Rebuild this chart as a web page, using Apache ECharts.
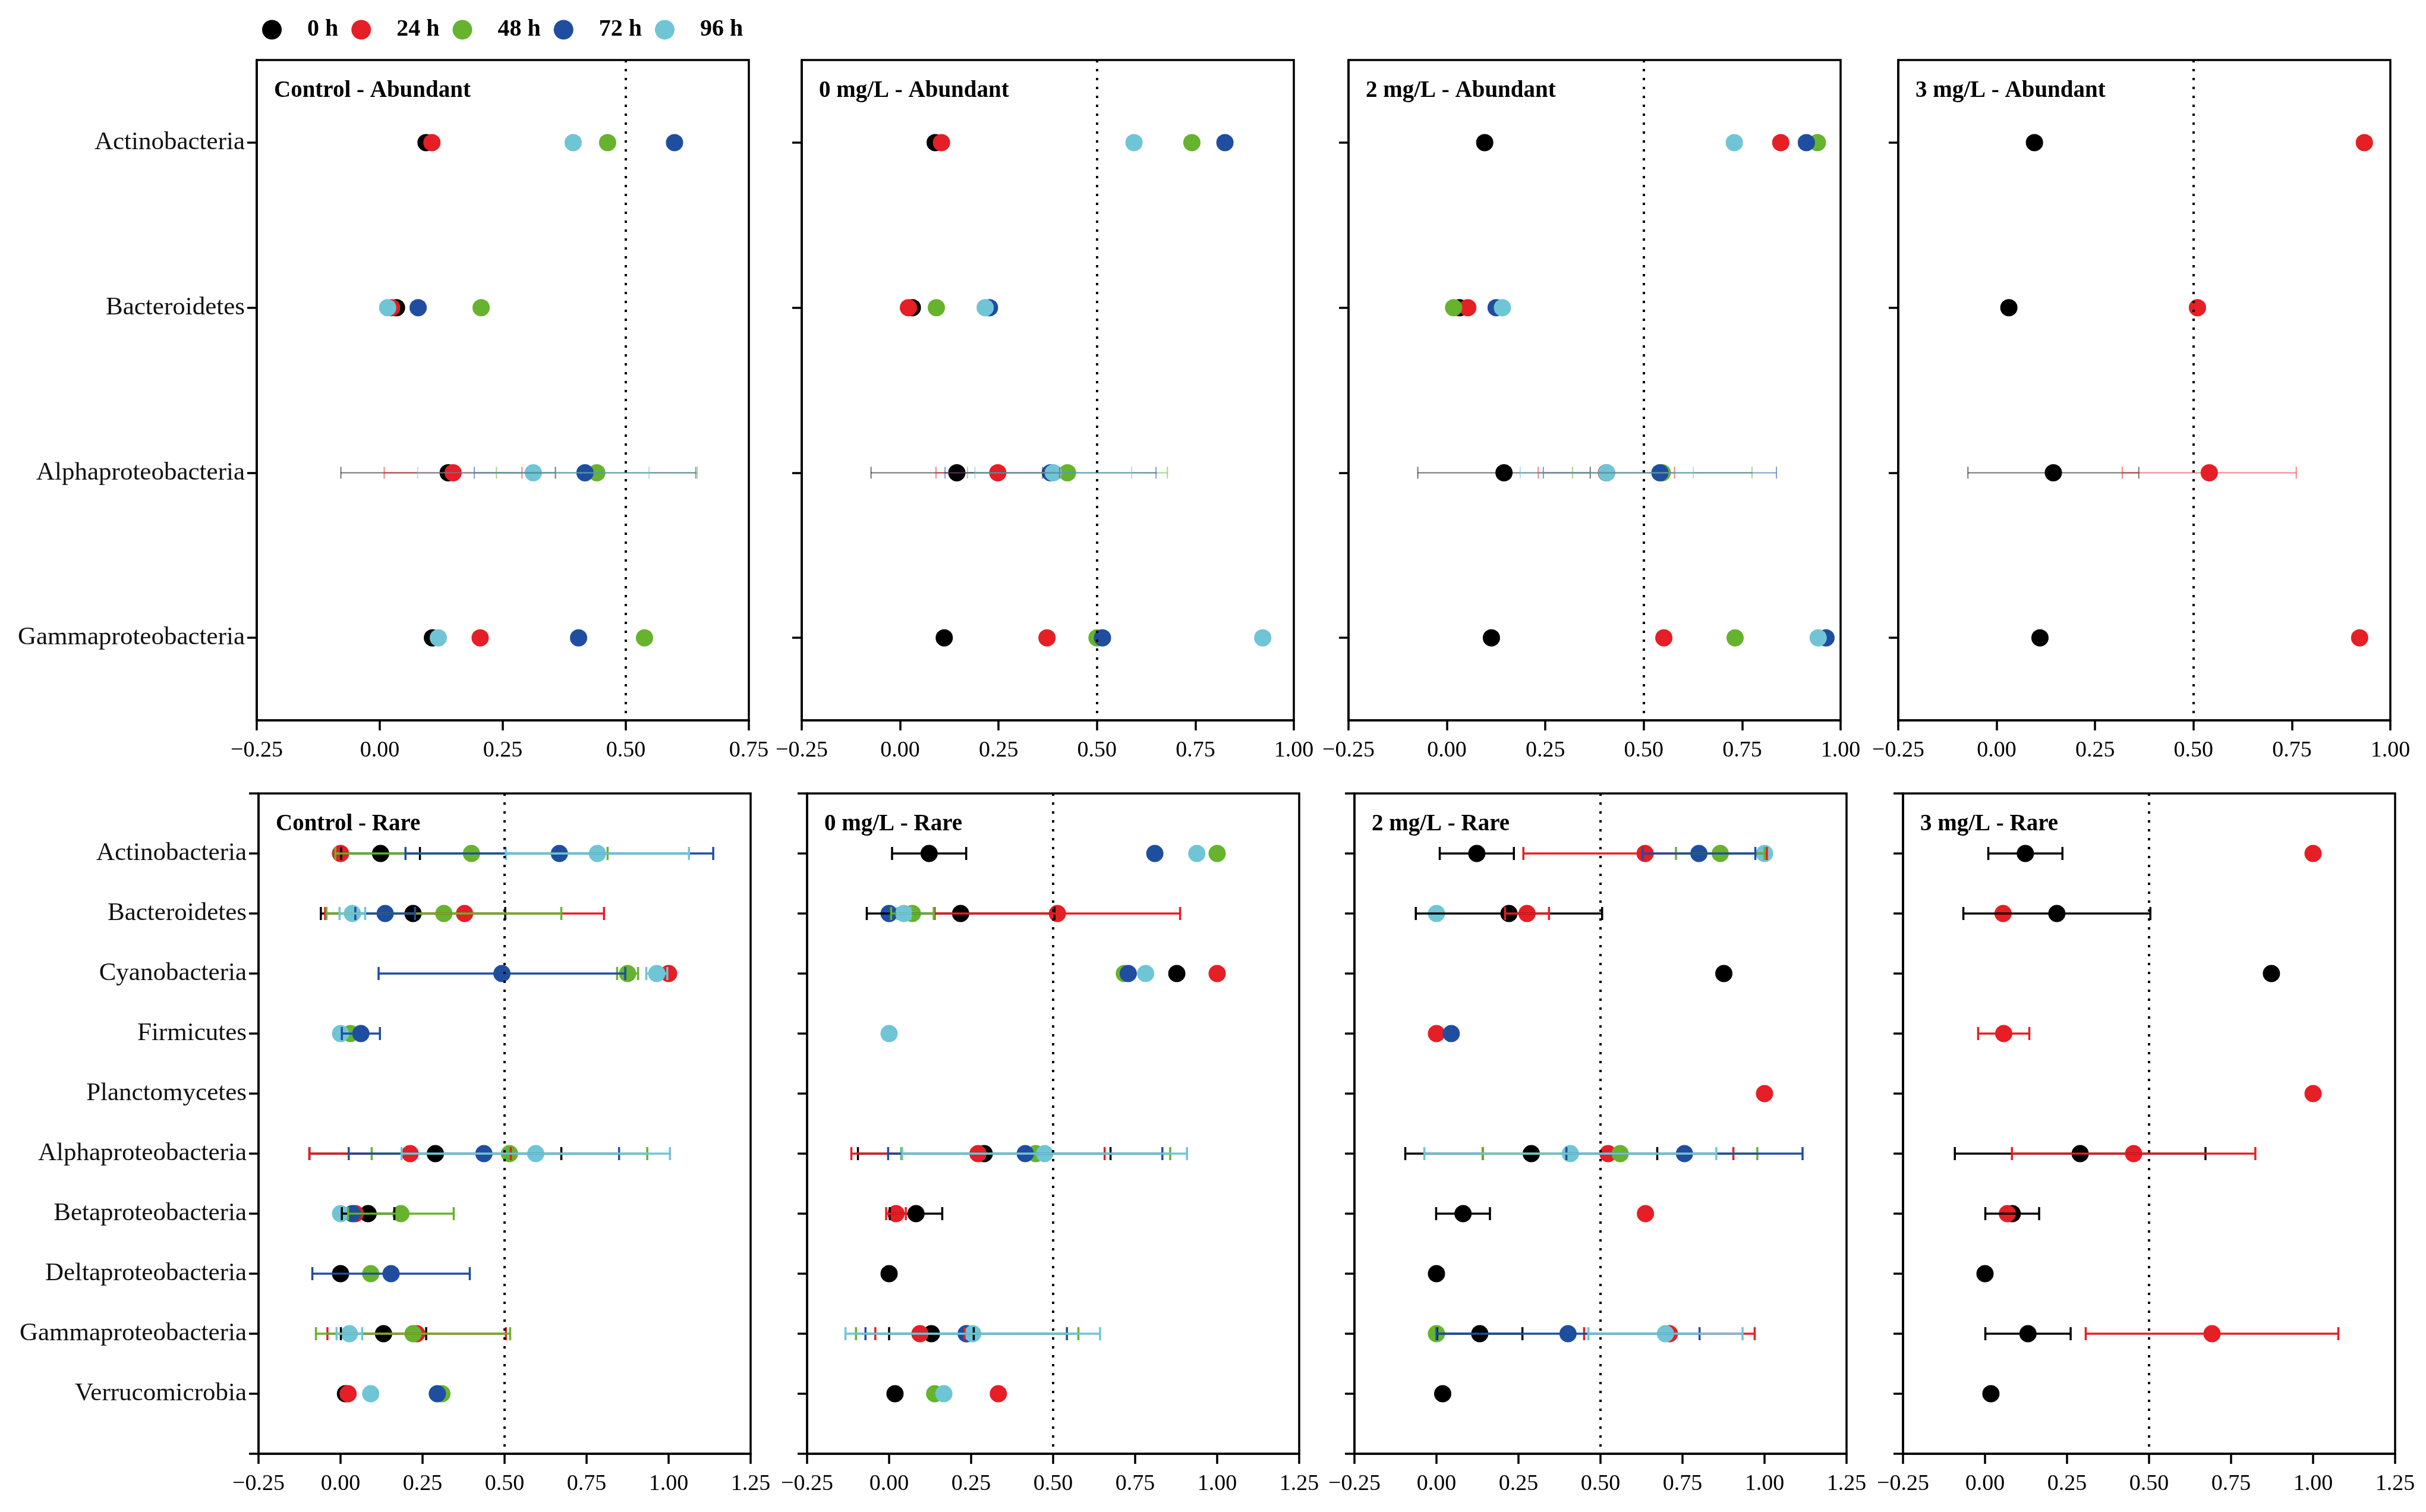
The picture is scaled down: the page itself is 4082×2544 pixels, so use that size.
<!DOCTYPE html>
<html>
<head>
<meta charset="utf-8">
<script src="https://cdn.jsdelivr.net/npm/echarts@6/dist/echarts.min.js"></script>
<style>
html,body{margin:0;padding:0;background:#fff;}
#chart{width:4082px;height:2544px;}
</style>
</head>
<body>
<div id="chart"></div>
<script>
// ---------- categories / labels ----------
const times = ['0 h', '24 h', '48 h', '72 h', '96 h'];
const timeColors = ['#000000', '#e61e25', '#66b32e', '#1f4ea0', '#6fc5d5'];
const abundantCats = ['Actinobacteria', 'Bacteroidetes', 'Alphaproteobacteria', 'Gammaproteobacteria'];
const rareCats = ['Actinobacteria', 'Bacteroidetes', 'Cyanobacteria', 'Firmicutes', 'Planctomycetes',
  'Alphaproteobacteria', 'Betaproteobacteria', 'Deltaproteobacteria', 'Gammaproteobacteria', 'Verrucomicrobia'];
const panelTitles = ['Control - Abundant', '0 mg/L - Abundant', '2 mg/L - Abundant', '3 mg/L - Abundant',
  'Control - Rare', '0 mg/L - Rare', '2 mg/L - Rare', '3 mg/L - Rare'];
const abundantTicks = [-0.25, 0, 0.25, 0.5, 0.75, 1.0];
const rareTicks = [-0.25, 0, 0.25, 0.5, 0.75, 1.0, 1.25];

// ---------- values (rows: 0 h, 24 h, 48 h, 72 h, 96 h; columns: categories) ----------
const ctrlAbundantMean = [
  [0.094, 0.034, 0.139, 0.107],
  [0.106, 0.024, 0.149, 0.204],
  [0.463, 0.206, 0.441, 0.538],
  [0.599, 0.078, 0.417, 0.404],
  [0.393, 0.016, 0.312, 0.119]
];
const ctrlAbundantSD = [
  [null, null, 0.218, null],
  [null, null, 0.140, null],
  [null, null, 0.204, null],
  [null, null, 0.225, null],
  [null, null, 0.235, null]
];
const mg0AbundantMean = [
  [0.089, 0.031, 0.144, 0.112],
  [0.105, 0.021, 0.248, 0.373],
  [0.741, 0.092, 0.425, 0.500],
  [0.825, 0.227, 0.382, 0.514],
  [0.594, 0.216, 0.389, 0.921]
];
const mg0AbundantSD = [
  [null, null, 0.218, null],
  [null, null, 0.157, null],
  [null, null, 0.254, null],
  [null, null, 0.268, null],
  [null, null, 0.199, null]
];
const mg2AbundantMean = [
  [0.096, 0.032, 0.145, 0.113],
  [0.848, 0.053, 0.405, 0.551],
  [0.941, 0.017, 0.547, 0.732],
  [0.913, 0.125, 0.541, 0.963],
  [0.730, 0.141, 0.406, 0.943]
];
const mg2AbundantSD = [
  [null, null, 0.219, null],
  [null, null, 0.173, null],
  [null, null, 0.228, null],
  [null, null, 0.296, null],
  [null, null, 0.220, null]
];
const mg3AbundantMean = [
  [0.096, 0.031, 0.144, 0.110],
  [0.934, 0.510, 0.540, 0.922],
  [null, null, null, null],
  [null, null, null, null],
  [null, null, null, null]
];
const mg3AbundantSD = [
  [null, null, 0.217, null],
  [null, null, 0.221, null],
  [null, null, null, null],
  [null, null, null, null],
  [null, null, null, null]
];

const ctrlRareMean = [
  [0.122, 0.221, null, null, null, 0.289, 0.084, 0.000, 0.131, 0.015],
  [0.000, 0.378, 1.000, null, null, 0.212, 0.045, null, 0.232, 0.023],
  [0.399, 0.315, 0.875, 0.030, null, 0.515, 0.184, 0.092, 0.221, 0.309],
  [0.667, 0.136, 0.492, 0.062, null, 0.437, 0.036, 0.154, null, 0.295],
  [0.783, 0.036, 0.964, 0.000, null, 0.595, 0.000, null, 0.027, 0.092]
];
const ctrlRareSD = [
  [0.120, 0.281, null, null, null, 0.384, 0.080, null, 0.130, null],
  [null, 0.425, null, null, null, 0.307, null, null, 0.272, null],
  [0.415, 0.358, 0.032, null, null, 0.420, 0.161, null, 0.296, null],
  [0.469, 0.091, 0.376, 0.058, null, 0.412, null, 0.240, null, null],
  [0.279, 0.039, 0.032, null, null, 0.409, null, null, 0.039, null]
];
const mg0RareMean = [
  [0.122, 0.218, 0.877, null, null, 0.290, 0.082, 0.000, 0.129, 0.018],
  [null, 0.513, 1.000, null, null, 0.271, 0.021, null, 0.094, 0.333],
  [1.000, 0.071, 0.717, null, null, 0.447, null, null, 0.238, 0.139],
  [0.810, 0.000, 0.729, null, null, 0.415, null, null, 0.235, null],
  [0.938, 0.045, 0.782, 0.000, null, 0.474, null, null, 0.255, 0.167]
];
const mg0RareSD = [
  [0.113, 0.286, null, null, null, 0.385, 0.080, null, 0.129, null],
  [null, 0.374, null, null, null, 0.386, 0.030, null, 0.136, null],
  [null, 0.065, null, null, null, 0.410, null, null, 0.339, null],
  [null, null, null, null, null, 0.418, null, null, 0.307, null],
  [null, 0.020, null, null, null, 0.434, null, null, 0.388, null]
];
const mg2RareMean = [
  [0.123, 0.221, 0.876, null, null, 0.289, 0.081, 0.000, 0.132, 0.019],
  [0.636, 0.276, null, 0.000, 1.000, 0.523, 0.637, null, 0.710, null],
  [0.865, null, null, null, null, 0.560, null, null, 0.000, null],
  [0.800, null, null, 0.045, null, 0.756, null, null, 0.401, null],
  [1.000, 0.000, null, null, null, 0.408, null, null, 0.698, null]
];
const mg2RareSD = [
  [0.113, 0.284, null, null, null, 0.384, 0.082, null, 0.130, null],
  [0.371, 0.067, null, null, null, 0.382, null, null, 0.260, null],
  [0.135, null, null, null, null, 0.418, null, null, null, null],
  [0.172, null, null, null, null, 0.360, null, null, 0.401, null],
  [null, null, null, null, null, 0.445, null, null, 0.235, null]
];
const mg3RareMean = [
  [0.123, 0.219, 0.873, null, null, 0.290, 0.083, 0.000, 0.131, 0.018],
  [1.000, 0.055, null, 0.057, 1.000, 0.453, 0.068, null, 0.692, null],
  [null, null, null, null, null, null, null, null, null, null],
  [null, null, null, null, null, null, null, null, null, null],
  [null, null, null, null, null, null, null, null, null, null]
];
const mg3RareSD = [
  [0.113, 0.285, null, null, null, 0.382, 0.082, null, 0.130, null],
  [null, null, null, 0.078, null, 0.371, null, null, 0.385, null],
  [null, null, null, null, null, null, null, null, null, null],
  [null, null, null, null, null, null, null, null, null, null],
  [null, null, null, null, null, null, null, null, null, null]
];

// ---------- layout ----------
const panelMeans = [ctrlAbundantMean, mg0AbundantMean, mg2AbundantMean, mg3AbundantMean,
  ctrlRareMean, mg0RareMean, mg2RareMean, mg3RareMean];
const panelSDs = [ctrlAbundantSD, mg0AbundantSD, mg2AbundantSD, mg3AbundantSD,
  ctrlRareSD, mg0RareSD, mg2RareSD, mg3RareSD];
const gridLefts = [432, 1349, 2269, 3194, 435, 1358, 2279, 3202];
const gridTops = [101, 101, 101, 101, 1335, 1335, 1335, 1335];
const gridW = 828, gridH = 1111;
const FONT = "'Liberation Serif', 'Times New Roman', serif";

function fmtTick(v) {
  return (v < 0 ? '\u2212' : '') + Math.abs(v).toFixed(2);
}

const grids = [], xAxes = [], yAxes = [], series = [], titles = [];

for (let p = 0; p < 8; p++) {
  const rare = p >= 4;
  const ticks = rare ? rareTicks : (p === 0 ? abundantTicks.slice(0, 5) : abundantTicks);
  grids.push({
    left: gridLefts[p], top: gridTops[p], width: gridW, height: gridH,
    show: true, borderColor: '#000', borderWidth: 3.5, backgroundColor: '#fff'
  });
  titles.push({
    text: panelTitles[p], left: gridLefts[p] + 29, top: gridTops[p] + 32, padding: 0,
    textStyle: { fontFamily: FONT, fontWeight: 'bold', fontSize: 39, color: '#000' }
  });
  xAxes.push({
    type: 'value', gridIndex: p, min: ticks[0], max: ticks[ticks.length - 1], interval: 0.25,
    axisLine: { show: true, onZero: false, lineStyle: { color: '#000', width: 3.5 } },
    axisTick: { show: true, length: 17, lineStyle: { color: '#000', width: 3.5 } },
    splitLine: { show: false },
    axisLabel: { formatter: fmtTick, fontFamily: FONT, fontSize: 38, color: '#000', margin: 32 }
  });
  const showLabels = (p === 0 || p === 4);
  if (!rare) {
    yAxes.push({
      type: 'category', gridIndex: p, data: abundantCats, inverse: true, boundaryGap: true,
      axisLine: { show: true, onZero: false, lineStyle: { color: '#000', width: 3.5 } },
      axisTick: { show: true, alignWithLabel: true, length: 16, lineStyle: { color: '#000', width: 3.5 } },
      splitLine: { show: false },
      axisLabel: { show: showLabels, fontFamily: FONT, fontSize: 43, color: '#111', margin: 20 }
    });
  } else {
    yAxes.push({
      type: 'value', gridIndex: p, min: 0, max: 11, interval: 1, inverse: true,
      axisLine: { show: true, onZero: false, lineStyle: { color: '#000', width: 3.5 } },
      axisTick: { show: true, length: 16, lineStyle: { color: '#000', width: 3.5 } },
      splitLine: { show: false },
      axisLabel: {
        show: showLabels, fontFamily: FONT, fontSize: 43, color: '#111', margin: 20,
        formatter: function (v) { return (v >= 1 && v <= 10) ? rareCats[v - 1] : ''; }
      }
    });
  }

  const means = panelMeans[p], sds = panelSDs[p];
  const offset = rare ? 1 : 0;
  for (let t = 0; t < 5; t++) {
    const pts = [];
    means[t].forEach(function (m, c) { if (m !== null) pts.push([m, c + offset]); });
    const s = {
      name: times[t], type: 'scatter', xAxisIndex: p, yAxisIndex: p,
      symbol: 'circle', symbolSize: 29, data: pts, z: 2,
      itemStyle: { color: timeColors[t], opacity: 1 },
      emphasis: { disabled: true }
    };
    if (t === 0) {
      s.markLine = {
        silent: true, symbol: ['none', 'none'], label: { show: false },
        lineStyle: { color: '#000', type: [4, 11], width: 4 },
        data: [{ xAxis: 0.5 }], animation: false
      };
    }
    series.push(s);
  }
  // error bars (drawn above markers)
  for (let t = 0; t < 5; t++) {
    const errs = [];
    means[t].forEach(function (m, c) {
      const sd = sds[t][c];
      if (m !== null && sd !== null) errs.push([m, c + offset, sd]);
    });
    if (!errs.length) continue;
    const col = timeColors[t];
    const lw = rare ? 3.5 : 2;
    const op = rare ? 1 : 0.55;
    const capH = rare ? 22 : 20;
    series.push({
      type: 'custom', xAxisIndex: p, yAxisIndex: p, z: 3, data: errs,
      encode: { x: 0, y: 1 }, silent: true,
      renderItem: function (params, api) {
        const m = api.value(0), c = api.value(1), sd = api.value(2);
        const a = api.coord([m - sd, c]), b = api.coord([m + sd, c]);
        const st = { stroke: col, lineWidth: lw, opacity: op };
        const h = capH / 2;
        return {
          type: 'group', children: [
            { type: 'line', shape: { x1: a[0], y1: a[1], x2: b[0], y2: b[1] }, style: st },
            { type: 'line', shape: { x1: a[0], y1: a[1] - h, x2: a[0], y2: a[1] + h }, style: st },
            { type: 'line', shape: { x1: b[0], y1: b[1] - h, x2: b[0], y2: b[1] + h }, style: st }
          ]
        };
      }
    });
  }
}

const chart = echarts.init(document.getElementById('chart'), null, { renderer: 'canvas' });
chart.setOption({
  backgroundColor: '#fff',
  animation: false,
  title: titles,
  legend: {
    data: times.map(function (n, i) { return { name: n, itemStyle: { color: timeColors[i] } }; }),
    left: 436, top: 25, orient: 'horizontal',
    icon: 'circle', itemWidth: 33, itemHeight: 33, itemGap: 22,
    selectedMode: false,
    textStyle: { fontFamily: FONT, fontWeight: 'bold', fontSize: 40, color: '#000', padding: [0, 0, 0, 38] }
  },
  grid: grids,
  xAxis: xAxes,
  yAxis: yAxes,
  series: series
});
</script>
</body>
</html>
